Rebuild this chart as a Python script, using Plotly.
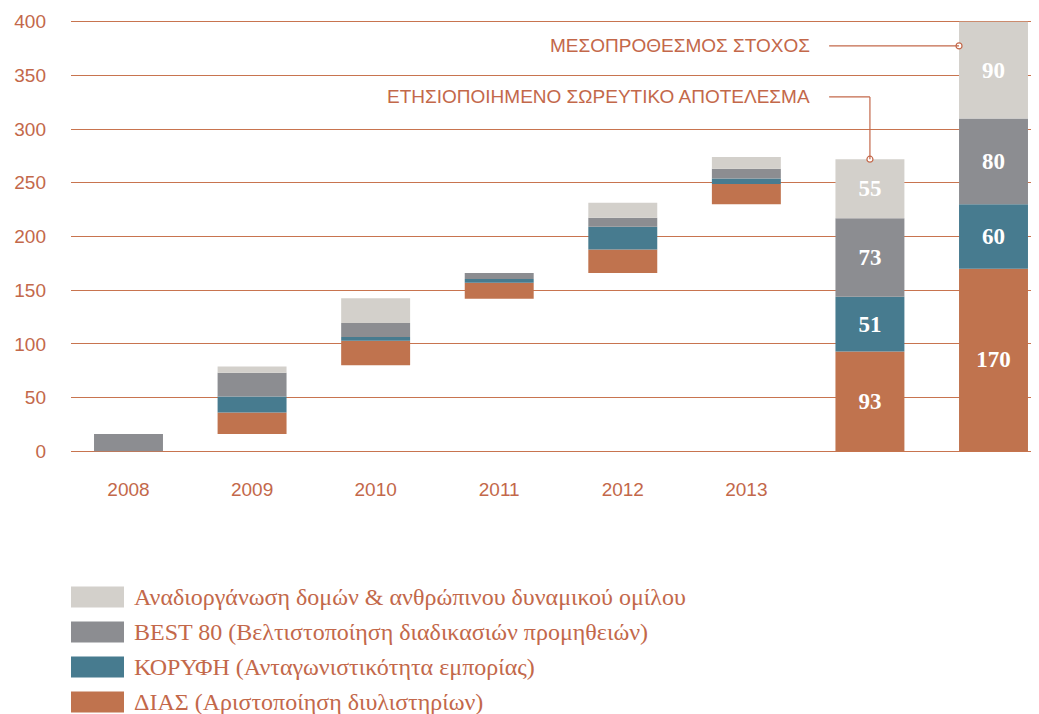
import numpy as np
import plotly.graph_objects as go

# ---- data ----
positions = [0, 1, 2, 3, 4, 5, 6, 7]
tick_labels = ["2008", "2009", "2010", "2011", "2012", "2013"]
start = [0, 16, 80, 142, 166, 230, 0, 0]          # floating base of each column
dias = [0, 20, 23, 15, 22, 19, 93, 170]            # ΔΙΑΣ
koryfi = [0, 15, 3.5, 3.5, 21, 5, 51, 60]          # ΚΟΡΥΦΗ
best80 = [16, 22, 13, 5.5, 8.5, 9, 73, 80]         # BEST 80
anadiorg = [0, 6, 23, 0, 14, 11, 55, 90]           # Αναδιοργάνωση
labelled = [False, False, False, False, False, False, True, True]

series_names = [
    "ΔΙΑΣ (Αριστοποίηση διυλιστηρίων)",
    "ΚΟΡΥΦΗ (Ανταγωνιστικότητα εμπορίας)",
    "BEST 80 (Βελτιστοποίηση διαδικασιών προμηθειών)",
    "Αναδιοργάνωση δομών & ανθρώπινου δυναμικού ομίλου",
]
series_values = [dias, koryfi, best80, anadiorg]
colors = ["#C0734E", "#477B8F", "#8C8D91", "#D3D0CB"]

annot_target = "ΜΕΣΟΠΡΟΘΕΣΜΟΣ ΣΤΟΧΟΣ"
annot_annual = "ΕΤΗΣΙΟΠΟΙΗΜΕΝΟ ΣΩΡΕΥΤΙΚΟ ΑΠΟΤΕΛΕΣΜΑ"

# ---- styling ----
ORANGE = "#C3684A"
OFF = 8                      # page body margin
W, H = 1039 - OFF, 714 - OFF
ML, MR = 71 - OFF, 2
Y0_PX, Y400_PX = 451 - OFF, 22 - OFF
ppu = (Y0_PX - Y400_PX) / 400.0
yr = [-10, 410]
top_px = Y0_PX - (yr[1]) * ppu
bot_px = Y0_PX - (yr[0]) * ppu
MT, MB = top_px, H - bot_px
xr = [-0.4653, 7.352]
BARW = 0.558

fig = go.Figure()
base = np.array(start, dtype=float)
for name, vals, col in zip(series_names, series_values, colors):
    v = np.array(vals, dtype=float)
    txt = [f"{int(round(a))}" if lab and a > 0 else "" for a, lab in zip(v, labelled)]
    fig.add_trace(go.Bar(
        x=positions, y=v, base=base.copy(), name=name,
        marker=dict(color=col, line=dict(width=0)),
        width=BARW, text=txt, textposition="inside",
        insidetextanchor="middle", textangle=0,
        textfont=dict(family="Liberation Serif", size=23, color="white", weight="bold"),
        showlegend=False, hoverinfo="skip",
    ))
    base = base + v

totals = base  # top of each column
annual_top = float(totals[6])

# annotation leader lines (data coordinates)
y_target_line = 377.5
y_annual_line = 330
x_line_start = 5.67
x_target_end = 7 - BARW / 2
fig.add_shape(type="line", x0=x_line_start, x1=x_target_end, y0=y_target_line, y1=y_target_line,
              line=dict(color=ORANGE, width=1.2), layer="above")
fig.add_shape(type="line", x0=x_line_start, x1=6, y0=y_annual_line, y1=y_annual_line,
              line=dict(color=ORANGE, width=1.2), layer="above")
fig.add_shape(type="line", x0=6, x1=6, y0=y_annual_line, y1=annual_top,
              line=dict(color=ORANGE, width=1.2), layer="above")
fig.add_trace(go.Scatter(
    x=[x_target_end, 6], y=[y_target_line, annual_top], mode="markers",
    marker=dict(size=6, color="white", line=dict(color=ORANGE, width=1.2)),
    showlegend=False, hoverinfo="skip", cliponaxis=False,
))
ann_font = dict(family="Liberation Sans, Arial", size=19, color=ORANGE)
fig.add_annotation(x=5.53, y=y_target_line, text=annot_target, showarrow=False,
                   xanchor="right", yanchor="middle", font=ann_font)
fig.add_annotation(x=5.53, y=y_annual_line, text=annot_annual, showarrow=False,
                   xanchor="right", yanchor="middle", font=ann_font)

# ---- custom legend (boxes + text) ----
plot_w = W - ML - MR
plot_h = bot_px - top_px
def px_x(px):
    return (px - OFF - ML) / plot_w
def px_y(py):
    return (bot_px - (py - OFF)) / plot_h

legend_order = [3, 2, 1, 0]
row_centers = [596.5, 631.5, 666.5, 701.5]
for row, idx in enumerate(legend_order):
    cy = row_centers[row]
    fig.add_shape(type="rect", xref="paper", yref="paper",
                  x0=px_x(71), x1=px_x(124), y0=px_y(cy + 10.5), y1=px_y(cy - 10.5),
                  fillcolor=colors[idx], line=dict(width=0))
    fig.add_annotation(xref="paper", yref="paper", x=px_x(132), y=px_y(cy),
                       text=series_names[idx], showarrow=False, xanchor="left",
                       yanchor="middle",
                       font=dict(family="Liberation Serif", size=24, color=ORANGE))

fig.update_layout(
    width=W, height=H,
    margin=dict(l=ML, r=MR, t=MT, b=MB, autoexpand=False),
    paper_bgcolor="white", plot_bgcolor="white",
    barmode="overlay",
    font=dict(family="Liberation Sans, Arial", color=ORANGE),
)
fig.update_xaxes(range=xr, tickvals=positions[:6], ticktext=tick_labels,
                 showgrid=False, zeroline=False, showline=False, ticks="",
                 tickfont=dict(size=19, color=ORANGE), ticklabelstandoff=14)
fig.update_yaxes(range=yr, tickvals=list(range(0, 401, 50)),
                 showgrid=True, gridcolor="#C8744F", gridwidth=1.2,
                 zeroline=False, showline=False, ticks="",
                 tickfont=dict(size=19, color=ORANGE), ticklabelstandoff=24)

fig.write_html("out.html")
